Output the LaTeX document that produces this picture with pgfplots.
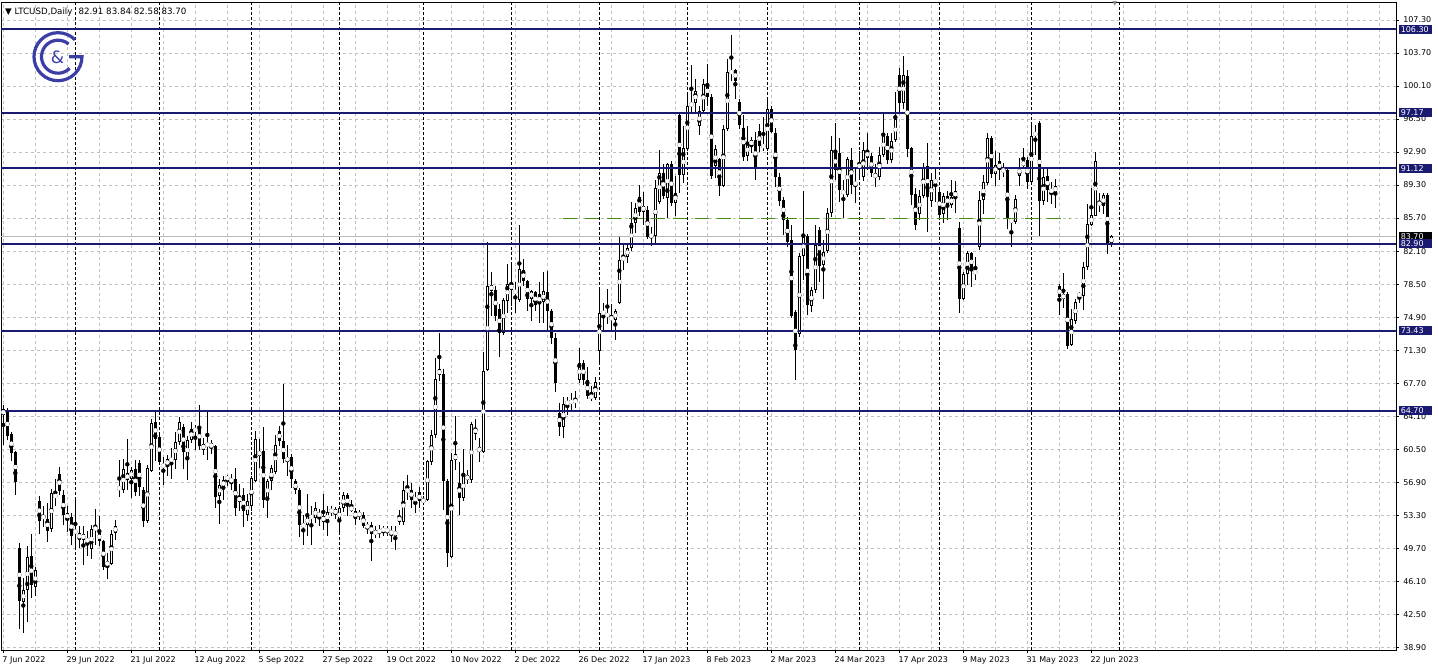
\documentclass[border=0pt]{standalone}
\usepackage{fontspec}
\setmainfont{DejaVu Sans}
\usepackage{pgfplots}
\usepackage{pgfplotstable}
\pgfplotsset{compat=1.18}
\definecolor{navy}{RGB}{26,26,112}
\definecolor{gridgrey}{RGB}{192,192,192}
\definecolor{lvlgreen}{RGB}{70,140,20}
\definecolor{logoblue}{RGB}{58,62,165}
\pgfplotstableread{
o h l c
64.2 65.3 61.0 64.85
64.6 65.0 61.5 61.9
62.1 62.4 59.2 60.1
60.2 60.3 55.5 56.9
49.7 50.3 40.9 43.9
43.8 46.4 40.5 45.1
45.1 49.9 41.7 48.7
48.8 51.2 44.3 45.7
45.5 47.6 44.5 47.3
54.9 55.4 51.2 52.7
52.9 54.3 52.0 53.3
52.9 54.6 50.4 51.6
51.8 56.2 51.5 55.7
55.3 57.2 54.3 55.5
57.8 58.6 55.5 55.9
55.5 56.1 52.2 53.3
52.9 54.3 51.5 53.5
53.1 53.5 50.0 51.0
51.6 55.0 49.7 51.4
50.6 52.1 49.7 51.4
51.3 52.1 47.9 50.6
50.7 51.6 48.8 50.4
49.6 52.2 48.5 51.8
51.7 54.0 50.1 52.0
51.4 53.2 49.9 50.5
50.5 50.6 47.3 47.7
47.75 49.2 46.3 48.3
48.0 51.7 47.9 51.2
51.4 52.8 50.6 52.1
56.0 59.3 55.3 56.5
56.0 59.4 55.7 58.3
57.1 61.6 56.1 57.9
57.3 58.6 55.2 58.2
58.3 59.3 55.4 55.8
59.0 59.3 55.4 56.4
56.0 56.4 52.0 52.7
52.7 58.8 52.5 58.4
58.1 63.8 58.0 63.4
63.5 64.7 59.2 61.6
61.8 62.1 58.8 59.1
58.8 59.7 56.6 58.6
58.7 59.9 57.6 59.4
59.5 60.6 57.3 59.2
59.3 62.4 58.3 61.3
61.3 64.0 61.0 63.5
62.9 63.3 58.3 60.2
59.3 61.9 57.1 61.5
61.5 63.5 61.2 62.7
62.7 63.1 60.4 62.5
63.0 65.3 60.4 60.8
60.4 61.7 59.9 61.1
61.1 64.8 59.3 60.9
60.6 61.5 60.0 61.2
60.9 61.0 54.1 55.3
55.4 57.2 52.3 56.6
56.4 57.6 55.0 57.1
57.2 57.7 56.5 57.5
56.9 57.8 56.0 57.3
57.3 58.4 53.2 54.1
54.7 56.7 53.8 55.4
55.5 56.3 52.0 53.8
53.3 55.6 52.7 54.9
54.3 57.6 53.8 57.4
57.0 62.5 56.9 61.6
59.8 61.6 58.5 60.3
60.3 62.9 54.1 55.0
55.0 57.2 53.0 57.0
57.0 58.8 56.1 58.4
58.0 62.0 57.8 61.0
62.5 63.0 60.9 61.4
61.4 67.6 59.0 59.4
59.1 61.0 57.6 59.7
59.6 60.0 56.3 57.2
57.0 57.2 55.6 56.0
56.1 56.3 50.9 52.2
52.0 53.3 50.0 52.4
52.2 55.6 51.0 53.2
52.9 54.3 50.1 53.3
53.0 54.7 52.4 54.1
53.5 54.0 52.1 53.2
53.2 55.6 51.7 52.6
52.6 54.3 51.0 53.6
53.6 54.3 53.2 53.95
53.95 54.2 52.9 53.4
52.6 54.25 51.2 54.1
54.1 55.8 53.6 55.5
55.5 55.7 53.2 54.25
54.25 55.0 53.6 53.8
53.8 54.1 52.25 52.9
53.6 53.9 52.8 53.2
53.3 53.7 51.9 52.1
51.95 52.6 51.3 52.2
52.2 52.6 48.35 51.3
51.3 52.1 50.8 51.5
51.4 52.2 50.8 51.7
51.6 52.1 51.0 51.8
51.8 52.1 51.0 51.5
51.6 52.1 50.4 51.2
51.05 52.1 49.5 51.6
53.2 53.9 52.25 52.6
52.6 57.0 52.25 56.1
55.9 57.7 55.0 56.1
56.1 56.8 54.1 55.0
55.1 55.8 53.5 55.0
55.8 56.4 54.1 54.8
54.7 55.4 54.4 55.05
55.0 59.3 54.8 59.2
59.05 62.6 58.8 62.1
62.1 70.4 61.7 68.1
69.2 73.2 67.9 68.6
68.7 69.2 53.9 57.0
57.0 57.2 47.7 49.15
48.75 60.05 48.6 59.3
59.3 64.1 58.2 59.95
56.8 59.1 53.3 55.2
55.2 60.5 54.9 57.8
57.7 58.2 56.7 57.1
57.1 63.5 56.8 63.2
62.2 63.8 61.5 62.8
60.7 61.7 59.1 60.2
60.2 71.1 60.05 69.0
69.1 83.05 69.0 78.3
78.4 79.8 75.0 77.8
77.9 78.3 74.5 75.0
75.8 76.3 70.6 73.2
73.2 77.0 73.0 76.8
76.7 80.7 75.4 78.5
78.5 80.9 76.1 77.9
77.9 78.7 75.4 77.4
76.8 84.9 76.6 80.1
80.0 81.2 78.3 78.85
78.85 79.0 75.6 76.85
76.9 77.9 74.5 77.75
77.6 77.75 75.6 76.2
77.4 78.7 74.3 76.3
76.5 79.8 74.3 77.75
77.6 79.95 73.55 75.6
75.6 75.8 72.0 72.65
72.65 73.2 66.7 67.7
64.4 65.5 61.9 62.96
62.96 66.2 61.7 65.45
65.45 66.2 64.2 65.65
65.6 66.6 64.7 65.7
65.7 66.8 65.0 65.8
68.0 71.5 67.7 69.9
69.9 70.25 67.5 68.0
68.0 69.5 66.0 66.3
66.4 67.35 65.7 66.05
66.05 68.4 65.9 67.8
71.2 77.9 69.9 75.4
75.45 76.4 73.55 75.3
75.3 78.0 74.1 74.95
74.95 76.3 73.55 74.6
74.6 75.75 72.45 75.55
76.4 83.6 76.3 81.1
81.1 83.0 80.0 81.5
81.5 83.0 80.85 82.4
82.4 87.5 82.1 85.2
85.2 87.3 84.1 86.8
87.95 89.3 85.95 86.4
86.4 88.5 84.9 87.05
86.6 87.05 83.4 83.6
83.6 84.7 82.7 83.95
83.8 89.8 82.85 88.95
87.5 93.1 87.2 90.6
90.6 91.6 87.8 88.15
87.9 91.7 85.7 91.55
91.55 91.9 87.0 87.35
87.35 90.3 85.9 88.45
96.9 97.0 88.45 90.45
90.35 95.75 89.55 93.3
93.2 99.2 93.0 97.9
98.0 102.4 97.2 98.2
98.2 100.85 97.3 99.6
95.7 97.9 94.8 97.4
97.4 100.85 97.2 100.3
100.3 102.5 97.9 98.85
98.85 99.2 90.0 90.3
91.4 93.7 90.1 93.2
92.1 92.3 88.15 89.25
89.25 95.9 89.1 95.4
95.4 103.0 95.2 101.6
101.6 105.7 100.7 101.65
101.8 101.95 98.65 100.7
98.4 98.65 95.4 95.9
95.55 96.9 91.9 92.4
92.45 95.75 91.9 93.85
93.6 94.5 92.8 94.2
94.2 95.1 89.9 91.3
95.2 96.0 92.9 93.55
93.7 96.75 93.0 93.4
93.25 98.65 93.0 97.6
97.6 97.95 94.95 95.1
95.0 95.5 89.1 90.2
90.2 90.6 87.0 87.6
87.7 88.05 83.85 85.5
85.5 85.85 82.6 83.1
83.3 84.95 74.75 75.0
75.5 75.65 68.0 71.3
73.1 81.85 72.7 81.55
81.55 88.6 79.0 83.65
83.7 84.0 75.1 76.2
76.1 78.2 75.5 77.85
77.9 84.95 77.5 82.75
84.4 84.75 78.75 80.45
80.6 83.3 76.9 82.0
82.1 86.75 81.85 86.3
86.3 94.6 85.85 93.1
92.85 96.05 89.85 90.9
92.75 94.4 87.5 88.75
88.75 89.85 85.7 88.3
88.2 92.35 88.0 92.1
92.05 93.3 88.3 89.3
89.5 91.3 87.3 89.4
91.5 93.0 90.2 91.3
90.2 94.05 89.7 93.1
93.1 94.95 90.95 92.2
92.5 92.8 90.15 90.6
90.6 91.6 89.1 90.05
90.15 93.4 89.85 92.6
92.6 97.2 92.4 94.8
94.7 95.0 91.6 92.0
92.0 95.0 91.7 94.15
94.2 99.4 94.0 96.5
101.3 102.05 97.3 98.3
98.3 103.35 97.6 101.3
101.2 101.85 92.4 93.2
93.3 93.5 87.1 88.2
88.3 88.95 84.45 84.9
86.2 88.75 85.5 88.1
88.1 91.7 87.85 91.2
91.4 93.85 84.2 88.05
87.6 90.65 86.9 89.85
89.85 91.1 87.5 89.55
88.5 88.8 85.85 86.05
86.2 88.4 85.2 88.1
88.1 88.6 85.5 87.1
87.1 89.85 86.75 88.05
88.0 89.75 86.2 88.6
84.6 85.3 75.3 76.9
76.9 79.85 76.8 79.6
79.6 82.15 78.4 81.85
81.85 82.0 78.2 80.0
80.0 81.5 79.0 79.6
82.5 88.6 82.2 87.7
87.7 90.4 86.1 89.6
89.55 94.95 89.3 94.4
94.4 94.7 90.05 90.5
90.5 93.0 89.15 91.5
91.9 92.8 89.8 90.9
91.0 91.7 90.2 90.8
90.9 91.0 84.5 85.6
85.6 85.7 82.6 85.2
85.3 88.2 85.1 87.75
90.3 92.2 89.2 91.3
91.4 93.3 91.0 91.9
92.05 92.4 88.85 89.6
89.6 95.9 89.4 94.7
94.7 95.9 92.6 95.05
96.05 96.25 83.75 87.6
87.6 91.25 87.1 90.2
90.25 91.3 87.4 88.8
88.85 89.6 87.25 88.5
88.5 89.95 86.8 89.2
78.3 78.5 75.1 77.05
76.9 79.7 75.85 77.4
77.4 77.65 71.45 71.8
71.9 75.75 71.8 74.65
74.5 76.85 74.2 76.6
77.4 77.65 76.4 77.25
77.25 80.95 75.65 80.4
80.4 87.25 80.05 85.05
84.95 88.95 84.8 86.05
85.95 92.95 85.9 91.9
87.4 88.4 86.4 87.15
87.0 88.4 86.2 88.25
88.25 88.4 81.8 82.95
82.91 83.84 82.58 83.70
}\candles
\begin{document}
\begin{tikzpicture}[x=1bp,y=1bp]
\useasboundingbox (0,0) rectangle (1438,671);
\fill[white] (0,0) rectangle (1438,671);
\begin{axis}[
  at={(1bp,21bp)}, anchor=south west,
  scale only axis, width=1395bp, height=648bp,
  xmin=-0.575, xmax=348.175, ymin=38.60, ymax=109.265,
  axis line style={black, line width=0.8bp},
  xtick={0,16,...,272},
  xticklabels={7 Jun 2022,29 Jun 2022,21 Jul 2022,12 Aug 2022,5 Sep 2022,27 Sep 2022,19 Oct 2022,10 Nov 2022,2 Dec 2022,26 Dec 2022,17 Jan 2023,8 Feb 2023,2 Mar 2023,24 Mar 2023,17 Apr 2023,9 May 2023,31 May 2023,22 Jun 2023},
  minor xtick={8,24,40,56,72,88,104,120,136,152,168,184,200,216,232,248,264,280,288,296,304,312,320,328,336,344},
  ytick={38.9,42.5,46.1,49.7,53.3,56.9,60.5,64.1,67.7,71.3,74.9,78.5,82.1,85.7,89.3,92.9,96.5,100.1,103.7,107.3},
  yticklabel pos=right, ytick pos=right, xtick pos=left,
  tick align=outside, major tick length=3bp, minor tick length=0pt,
  tick style={black, line width=0.8bp},
  grid=both,
  major grid style={gridgrey, line width=0.8bp, dash pattern=on 3bp off 3bp},
  minor grid style={gridgrey, line width=0.8bp, dash pattern=on 3bp off 3bp},
  /pgf/number format/assume math mode=true,
  yticklabel={\pgfmathprintnumber[fixed,fixed zerofill,precision=2,1000 sep={}]{\tick}},
  tick label style={font=\fontsize{8bp}{9bp}\selectfont, black},
  yticklabel style={anchor=west, inner sep=0pt, xshift=4bp},
  xticklabel style={anchor=north west, inner sep=0pt, xshift=-1bp, yshift=-3bp},
]
% month separators
\pgfplotsinvokeforeach{18,39,62,84,105,127,149,171,191,214,234,257,279}{
  \draw[black, line width=0.8bp, dash pattern=on 3bp off 2bp] (axis cs:#1,38.6) -- (axis cs:#1,109.265);
}
% current price line
\addplot[color={rgb,255:red,185;green,185;blue,185}, line width=1bp, forget plot] coordinates {(-0.575,83.7) (348.175,83.7)};
% wicks
\addplot[black, only marks, mark=none, forget plot,
  error bars/.cd, y dir=both, y explicit, error mark=none,
  error bar style={draw=black, line width=1bp}]
  table[x expr=\coordindex, y expr={(\thisrow{h}+\thisrow{l})/2}, y error expr={(\thisrow{h}-\thisrow{l})/2}]{\candles};
% bodies
\addplot[black, only marks, mark=none, forget plot,
  error bars/.cd, y dir=both, y explicit, error mark=none,
  error bar style={draw=black, line width=3bp}]
  table[x expr=\coordindex, y expr={(\thisrow{o}+\thisrow{c})/2}, y error expr={max(abs(\thisrow{c}-\thisrow{o})/2,0.055)}]{\candles};
% hollow interior of rising candles
\addplot[white, only marks, mark=none, forget plot,
  error bars/.cd, y dir=both, y explicit, error mark=none,
  error bar style={draw=white, line width=1bp}]
  table[x expr=\coordindex, y expr={(\thisrow{o}+\thisrow{c})/2}, y error expr={max(0,(\thisrow{c}-\thisrow{o})/2-0.109)}]{\candles};
% level lines
\addplot[lvlgreen, line width=1bp, dash pattern=on 14bp off 8bp, forget plot] coordinates {(139.9,85.65) (266.7,85.65)};
\addplot[navy, line width=2bp, forget plot] coordinates {(-0.575,106.30) (348.175,106.30)};
\addplot[navy, line width=2bp, forget plot] coordinates {(-0.575,97.17) (348.175,97.17)};
\addplot[navy, line width=2bp, forget plot] coordinates {(-0.575,91.12) (348.175,91.12)};
\addplot[navy, line width=2bp, forget plot] coordinates {(-0.575,82.90) (348.175,82.90)};
\addplot[navy, line width=2bp, forget plot] coordinates {(-0.575,73.43) (348.175,73.43)};
\addplot[navy, line width=2bp, forget plot] coordinates {(-0.575,64.70) (348.175,64.70)};
\coordinate (b1) at (axis cs:348.175,106.30);
\coordinate (b2) at (axis cs:348.175,97.17);
\coordinate (b3) at (axis cs:348.175,91.12);
\coordinate (b4) at (axis cs:348.175,82.90);
\coordinate (b5) at (axis cs:348.175,73.43);
\coordinate (b6) at (axis cs:348.175,64.70);
\coordinate (b7) at (axis cs:348.175,83.70);
\end{axis}
\tikzset{pricebox/.style={anchor=west, text=white, inner xsep=2bp, inner ysep=1.5bp, text width=29bp, align=left, font=\fontsize{8bp}{9bp}\selectfont, xshift=2.5bp}}
\node[pricebox, fill=black] at (b7) {83.70};
\node[pricebox, fill=navy] at (b1) {106.30};
\node[pricebox, fill=navy] at (b2) {97.17};
\node[pricebox, fill=navy] at (b3) {91.12};
\node[pricebox, fill=navy] at (b4) {82.90};
\node[pricebox, fill=navy] at (b5) {73.43};
\node[pricebox, fill=navy] at (b6) {64.70};
% title
\node[anchor=west, inner sep=0pt, font=\fontsize{8.7bp}{10bp}\selectfont] at (5,659) {▼ LTCUSD,Daily\hspace{6bp}82.91 83.84 82.58 83.70};
\node[inner sep=0pt, text=gray, font=\fontsize{6bp}{6bp}\selectfont] at (1115,667) {▼};
% logo
\begin{scope}[logoblue, line width=3.2bp]
  \draw (58,614.3) ++(45:24) arc[start angle=45, end angle=360, radius=24] -- ++(-13,0);
  \draw (58,614.3) ++(50:16.5) arc[start angle=50, end angle=315, radius=16.5];
  \node[inner sep=0pt, font=\fontsize{17bp}{17bp}\selectfont, text=logoblue] at (57.5,614) {\&};
\end{scope}
\end{tikzpicture}
\end{document}
